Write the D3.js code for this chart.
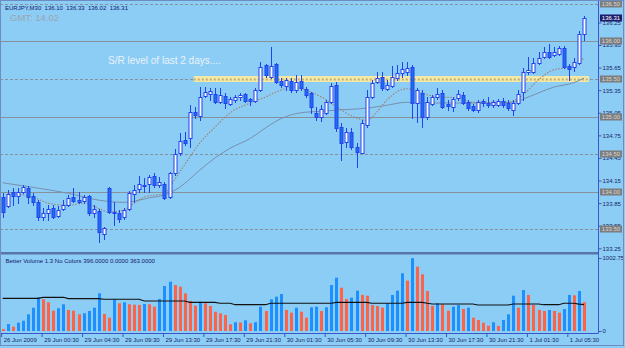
<!DOCTYPE html>
<html>
<head>
<meta charset="utf-8">
<script src="https://cdnjs.cloudflare.com/ajax/libs/d3/7.8.5/d3.min.js"></script>
<style>
body { margin: 0; background: #8ccdf6; }
svg { display: block; }
text { font-family: "Liberation Sans", Arial, sans-serif; }
</style>
</head>
<body>
<div id="chart"></div>
<script>
// EURJPY M30 candles
var openP = [133.93,133.81,134.00,133.94,134.00,134.05,133.94,133.86,133.67,133.72,
  133.78,133.68,133.77,133.82,133.93,133.89,133.88,133.94,133.72,133.75,
  133.44,134.05,133.73,133.72,133.67,133.77,133.97,134.04,134.09,134.10,
  134.21,134.09,134.10,133.93,134.25,134.51,134.69,134.71,135.06,135.01,
  135.27,135.30,135.30,135.19,135.27,135.17,135.22,135.26,135.30,135.23,
  135.21,135.35,135.68,135.52,135.70,135.47,135.40,135.47,135.35,135.47,
  135.37,135.31,135.05,134.99,135.05,135.19,135.42,134.86,134.66,134.79,
  134.60,134.52,134.89,135.26,135.46,135.52,135.37,135.40,135.51,135.58,
  135.59,135.66,135.18,135.31,134.99,135.17,135.26,135.31,135.17,135.13,
  135.25,135.29,135.19,135.14,135.09,135.20,135.18,135.15,135.15,135.21,
  135.18,135.09,135.18,135.33,135.59,135.59,135.71,135.79,135.86,135.82,
  135.83,135.91,135.67,135.66,135.71,136.10];
var highP = [133.98,134.02,134.05,134.05,134.09,134.08,133.98,133.89,133.78,133.82,
  133.82,133.81,133.89,133.96,134.05,134.00,133.96,133.96,133.82,133.77,
  133.53,134.06,133.87,133.76,133.78,134.01,134.09,134.21,134.18,134.22,
  134.25,134.20,134.13,134.26,134.57,134.78,134.79,135.15,135.13,135.39,
  135.39,135.38,135.38,135.38,135.31,135.26,135.29,135.31,135.31,135.25,
  135.38,135.72,135.70,135.92,135.71,135.51,135.51,135.51,135.55,135.55,
  135.39,135.33,135.13,135.15,135.22,135.45,135.46,134.91,134.85,134.85,
  134.65,134.95,135.35,135.49,135.59,135.59,135.49,135.67,135.68,135.72,
  135.72,135.68,135.38,135.35,135.26,135.29,135.38,135.35,135.22,135.26,
  135.35,135.33,135.22,135.17,135.22,135.23,135.26,135.22,135.23,135.25,
  135.22,135.22,135.35,135.64,135.79,135.78,135.86,135.92,135.96,135.92,
  135.94,135.94,135.70,135.78,136.13,136.33];
var lowP = [133.67,133.80,133.82,133.85,133.98,133.85,133.82,133.63,133.63,133.63,
  133.65,133.67,133.76,133.81,133.86,133.85,133.85,133.69,133.67,133.33,
  133.37,133.72,133.56,133.60,133.64,133.76,133.86,134.00,134.00,134.00,
  134.06,134.06,133.91,133.92,134.22,134.49,134.62,134.60,134.98,134.95,
  135.26,135.22,135.18,135.18,135.11,135.15,135.19,135.22,135.19,135.15,
  135.19,135.34,135.52,135.51,135.45,135.39,135.35,135.33,135.33,135.35,
  135.26,135.05,134.95,134.94,135.03,135.18,134.81,134.42,134.60,134.57,
  134.33,134.51,134.86,135.25,135.45,135.35,135.35,135.39,135.48,135.52,
  135.55,134.98,134.93,134.86,134.97,135.15,135.23,135.11,135.09,135.07,
  135.22,135.17,135.09,135.07,135.06,135.14,135.13,135.13,135.14,135.13,
  135.09,135.02,135.17,135.22,135.56,135.58,135.70,135.78,135.78,135.80,
  135.82,135.65,135.48,135.60,135.70,136.02];
var closeP = [133.73,133.97,133.94,134.00,134.06,133.93,133.86,133.67,133.72,133.77,
  133.67,133.76,133.82,133.92,133.88,133.87,133.93,133.72,133.77,133.47,
  133.52,133.73,133.72,133.64,133.76,133.98,134.02,134.10,134.08,134.20,
  134.09,134.13,133.92,134.25,134.50,134.67,134.65,135.06,135.02,135.26,
  135.33,135.34,135.19,135.29,135.18,135.23,135.26,135.29,135.21,135.21,
  135.35,135.66,135.55,135.67,135.46,135.42,135.48,135.35,135.46,135.38,
  135.29,135.13,134.99,135.10,135.19,135.40,134.85,134.65,134.79,134.60,
  134.53,134.91,135.26,135.45,135.51,135.38,135.42,135.52,135.58,135.63,
  135.64,135.18,135.35,134.99,135.19,135.26,135.30,135.13,135.14,135.23,
  135.30,135.18,135.11,135.09,135.19,135.18,135.15,135.19,135.21,135.15,
  135.11,135.18,135.30,135.59,135.62,135.71,135.78,135.86,135.79,135.86,
  135.91,135.66,135.63,135.72,136.10,136.31];

// moving averages, sampled at bar indices: [bar, price]
var maFast = [[1,133.98],[6,133.93],[9,133.85],[13,133.82],[16,133.85],[19,133.78],[21,133.73],
  [24,133.76],[26,133.85],[28,133.93],[32,133.98],[34,134.16],[37,134.46],[39,134.65],
  [42,134.86],[45,135.05],[49,135.18],[52,135.26],[55,135.35],[57,135.39],[60,135.35],
  [63,135.26],[66,135.13],[70,134.98],[72,134.95],[74,135.06],[76,135.22],[80,135.37],
  [83,135.31],[86,135.26],[90,135.25],[93,135.19],[96,135.19],[100,135.19],[103,135.29],
  [106,135.49],[109,135.62],[113,135.66],[115,135.78]];
var maSlow = [[0,134.12],[6,134.06],[13,133.98],[19,133.89],[24,133.86],[29,133.92],[32,133.96],
  [35,134.06],[39,134.29],[42,134.45],[45,134.58],[49,134.71],[52,134.85],[55,134.97],
  [59,135.05],[63,135.07],[67,135.09],[70,135.10],[73,135.12],[76,135.15],[80,135.19],
  [83,135.18],[90,135.18],[96,135.18],[101,135.19],[104,135.26],[109,135.39],[113,135.45],
  [115,135.51]];

// Better Volume values and its average line
var volume = [27,96,59,114,141,229,320,463,436,394,
  279,312,367,289,279,229,243,275,320,518,
  234,183,436,381,394,367,362,358,371,367,
  334,440,618,677,632,609,518,412,348,403,
  381,344,265,243,220,92,120,116,147,106,
  120,334,275,436,471,508,289,251,320,265,
  183,326,334,275,326,632,732,595,440,458,
  554,495,485,357,344,320,381,495,554,793,
  691,1000,883,779,550,344,381,367,279,334,
  357,302,320,183,151,114,73,120,69,151,
  229,485,320,563,495,357,289,275,289,275,
  251,302,495,490,550,396];
var volAvg = [449,449,449,449,449,449,449,449,463,463,
  463,463,463,444,444,444,444,444,444,444,
  436,436,436,436,436,436,436,436,412,412,
  412,412,412,412,412,412,412,394,394,394,
  394,394,394,381,381,381,361,361,361,361,
  361,361,361,381,381,381,381,381,381,381,
  381,381,381,381,381,381,394,394,394,394,
  394,394,394,381,381,381,381,381,381,381,
  394,394,394,394,381,371,371,371,371,371,
  371,371,371,371,357,357,357,357,357,357,
  357,371,371,371,371,371,371,361,361,361,
  361,381,381,381,370,363];

var priceTicks = [136.25,135.95,135.65,135.35,135.05,134.75,134.45,134.15,133.85,133.55,133.25];
var levelLines = [136.50,136.00,135.50,135.00,134.50,134.00,133.50];
var levelSolid = [false,true,false,true,false,true,false];
var srLevel = 135.50, srFrom = 38;
var timeTickIdx = [0,8,16,24,32,40,48,56,64,72,80,88,96,104,112];
var timeLabels = ["26 Jun 2009","29 Jun 00:30","29 Jun 04:30","29 Jun 09:30","29 Jun 13:30",
  "29 Jun 17:30","29 Jun 21:30","30 Jun 01:30","30 Jun 05:30","30 Jun 09:30",
  "30 Jun 13:30","30 Jun 17:30","30 Jun 21:30","1 Jul 01:30","1 Jul 05:30"];

var width = 625, height = 348;
var axisX = 598.5;

var svg = d3.select("#chart").append("svg").attr("width", width).attr("height", height);
svg.append("rect").attr("width", width).attr("height", height).attr("fill", "#8ccdf6");

var x = d3.scaleLinear().domain([0, 115]).range([2.7, 584]);
var y = d3.scaleLinear().domain([133.25, 136.50]).range([248.3, 3.6]);
var yv = d3.scaleLinear().domain([0, 1002.75]).range([331, 258]);

svg.append("clipPath").attr("id", "mainClip").append("rect")
  .attr("x", 0).attr("y", 0).attr("width", axisX).attr("height", 251);
var main = svg.append("g").attr("clip-path", "url(#mainClip)");

//水平价位线
main.selectAll("line.level").data(levelLines).enter().append("line")
  .attr("x1", 0).attr("x2", axisX)
  .attr("y1", d => Math.round(y(d)) + 0.5).attr("y2", d => Math.round(y(d)) + 0.5)
  .attr("stroke", "#87919c").attr("stroke-width", 1)
  .attr("stroke-dasharray", (d, i) => levelSolid[i] ? null : "3,2");

// S/R band
var sry = Math.round(y(srLevel));
main.append("rect").attr("x", x(srFrom) - 1).attr("y", sry - 3)
  .attr("width", 589 - x(srFrom) + 1).attr("height", 6).attr("fill", "#f2e8a8");
main.append("line").attr("x1", x(srFrom) - 1).attr("x2", 589)
  .attr("y1", sry + 0.5).attr("y2", sry + 0.5)
  .attr("stroke", "#c4ad6c").attr("stroke-width", 2).attr("stroke-dasharray", "2,2");

// moving averages
var maLine = d3.line().x(d => x(d[0])).y(d => y(d[1])).curve(d3.curveMonotoneX);
main.append("path").attr("d", maLine(maSlow)).attr("fill", "none")
  .attr("stroke", "#7890ac").attr("stroke-width", 1);
main.append("path").attr("d", maLine(maFast)).attr("fill", "none")
  .attr("stroke", "#a07f6e").attr("stroke-width", 1.1).attr("stroke-dasharray", "1.5,1.5");

// candles
var idx = d3.range(openP.length);
var wickColor = "#2244ee";
var candle = main.selectAll("g.candle").data(idx).enter().append("g");
candle.append("line")
  .attr("x1", i => Math.round(x(i)) + 0.5).attr("x2", i => Math.round(x(i)) + 0.5)
  .attr("y1", i => Math.round(y(highP[i]))).attr("y2", i => Math.round(y(lowP[i])) + 1)
  .attr("stroke", wickColor);
candle.append("rect")
  .attr("x", i => Math.round(x(i)) - 1)
  .attr("y", i => Math.round(y(Math.max(openP[i], closeP[i]))) + 0.5)
  .attr("width", 3)
  .attr("height", i => Math.max(1, Math.round(y(Math.min(openP[i], closeP[i]))) - Math.round(y(Math.max(openP[i], closeP[i])))))
  .attr("fill", i => closeP[i] >= openP[i] ? "#fbfbff" : "#1f6cf2")
  .attr("stroke", wickColor).attr("stroke-width", 1);

// text on chart
svg.append("text").attr("x", 5).attr("y", 9.5).attr("font-size", 6).attr("fill", "#16166a")
  .style("white-space", "pre").text("EURJPY,M30  136.10  136.33  136.02  136.31");
svg.append("text").attr("x", 10).attr("y", 21).attr("font-size", 9.5).attr("fill", "#9ca4ae")
  .text("GMT: 14.02");
svg.append("text").attr("x", 108).attr("y", 63.5).attr("font-size", 10).attr("fill", "#eaf2fa")
  .text("S/R level of last 2 days....");

// volume window
svg.append("rect").attr("x", 0).attr("y", 252).attr("width", axisX).attr("height", 2.5).attr("fill", "#5a76a8");
svg.append("text").attr("x", 5.5).attr("y", 262.5).attr("font-size", 6).attr("fill", "#16166a")
  .text("Better Volume 1.3 No Colors 396.0000 0.0000 363.0000");
svg.selectAll("rect.vol").data(idx).enter().append("rect")
  .attr("x", i => Math.round(x(i)) - 1).attr("width", 3)
  .attr("y", i => yv(volume[i])).attr("height", i => yv(0) - yv(volume[i]))
  .attr("fill", i => (i > 0 && volume[i] > volume[i - 1]) ? "#1e8fff" : "#ff6347");
svg.append("path").attr("d", d3.line().x((d, i) => x(i)).y(d => yv(d))(volAvg))
  .attr("fill", "none").attr("stroke", "#111").attr("stroke-width", 1.2);

// price axis
var pAxis = svg.append("g").attr("transform", "translate(" + axisX + ",0)")
  .call(d3.axisRight(y).tickValues(priceTicks).tickSize(3).tickPadding(1).tickFormat(d3.format(".2f")));
pAxis.select(".domain").attr("d", "M0,0V333").attr("stroke", "#3a56c8");
pAxis.selectAll("line").attr("stroke", "#3a56c8");
pAxis.selectAll("text").attr("font-size", 6).attr("fill", "#1a2468").attr("font-family", null);

var vAxis = svg.append("g").attr("transform", "translate(" + axisX + ",0)")
  .call(d3.axisRight(yv).tickValues([1002.75, 0]).tickSize(3).tickPadding(1).tickFormat(d => d ? d3.format(".2f")(d) : "0"));
vAxis.select(".domain").remove();
vAxis.selectAll("line").attr("stroke", "#3a56c8");
vAxis.selectAll("text").attr("font-size", 6).attr("fill", "#1a2468").attr("font-family", null);

// level boxes on axis
levelLines.forEach(function (v) {
  var cy = Math.round(y(v));
  svg.append("rect").attr("x", 600).attr("y", cy - 3.5).attr("width", 22).attr("height", 7).attr("fill", "#7d7d7d");
  svg.append("text").attr("x", 611).attr("y", cy + 2).attr("text-anchor", "middle")
    .attr("font-size", 6).attr("fill", "#d6d6d6").text(v.toFixed(2));
});
var lp = Math.round(y(closeP[closeP.length - 1]));
svg.append("rect").attr("x", 600).attr("y", lp - 3.5).attr("width", 22).attr("height", 7).attr("fill", "#1c1c6c");
svg.append("text").attr("x", 611).attr("y", lp + 2).attr("text-anchor", "middle")
  .attr("font-size", 6).attr("fill", "#ffffff").text(closeP[closeP.length - 1].toFixed(2));

// time axis
var tAxis = svg.append("g").attr("transform", "translate(-1.5,333)")
  .call(d3.axisBottom(x).tickValues(timeTickIdx).tickSize(4).tickPadding(1)
    .tickFormat((d, i) => timeLabels[i]));
tAxis.select(".domain").attr("d", "M1.5,0.5H" + (axisX + 1.5)).attr("stroke", "#3a56c8");
tAxis.selectAll("line").attr("stroke", "#3a56c8");
tAxis.selectAll("text").attr("text-anchor", "start").attr("x", 2).attr("font-size", 6)
  .attr("fill", "#1a2468").attr("font-family", null);

// frame
svg.append("rect").attr("x", 0.5).attr("y", 0.5).attr("width", 623).attr("height", 345)
  .attr("fill", "none").attr("stroke", "#6d8cc0");
</script>
</body>
</html>
